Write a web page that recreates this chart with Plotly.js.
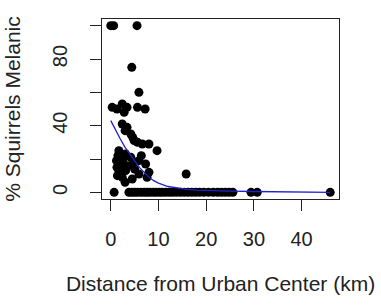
<!DOCTYPE html>
<html>
<head>
<meta charset="utf-8">
<script src="https://cdn.plot.ly/plotly-3.0.1.min.js"></script>
<style>html,body{margin:0;padding:0;background:#fff;}#chart{width:381px;height:308px;}</style>
</head>
<body>
<div id="chart"></div>
<script>
// Observed sites: distance from urban center (km) and % melanic squirrels
const distanceKm = [
  0.0, 0.6, 5.5,
  4.4,
  5.9,
  0.3, 1.3, 2.4, 2.8, 3.4, 5.6, 7.2,
  2.4, 3.4, 4.2, 4.9, 3.0, 4.6,
  1.7, 3.1, 6.6, 8.0, 5.6,
  1.2, 1.5, 1.3, 1.7, 1.4, 2.2, 3.1, 2.6, 3.6, 4.2, 4.8, 5.9, 6.4, 7.3, 5.9, 4.5, 5.0, 8.0, 7.6, 3.0, 2.4,
  9.7, 15.8,
  0.7, 3.8, 4.4, 5.0, 5.6, 6.3, 7.0, 7.6, 8.2, 8.9, 9.5, 10.2, 10.8, 11.5, 12.3, 13.0, 13.8, 14.6, 15.4,
  16.2, 17.0, 17.8, 18.6, 19.5, 20.5, 21.5, 22.4, 23.2, 24.0, 24.8, 25.6, 29.4, 30.7, 46.0
];
const pctMelanic = [
  100, 100, 100,
  75,
  60,
  51, 50, 53, 48, 51, 51, 50,
  41, 39, 35, 31, 37, 33,
  25, 23, 29, 29, 30,
  19, 22, 15, 13, 10, 17, 13, 20, 16, 21, 18, 19, 22, 17, 11, 8, 14, 12, 9, 6, 9,
  25, 11,
  0, 0, 0, 0, 0, 0, 0, 0, 0, 0, 0, 0, 0, 0, 0, 0, 0, 0, 0,
  0, 0, 0, 0, 0, 0, 0, 0, 0, 0, 0, 0, 0, 0, 0
];
// Fitted curve
const fitX = [0, 1, 2, 3, 4, 5, 6, 7, 8, 9, 10, 12, 14, 16, 18, 20, 25, 30, 38, 46];
const fitY = [43, 37, 32, 27, 23, 19, 15, 12, 9, 7, 5.5, 3.5, 2.5, 1.8, 1.3, 1.0, 0.7, 0.5, 0.3, 0];

const xTicks = [0, 10, 20, 30, 40];
const yTicks = [0, 20, 40, 60, 80, 100];
const yTickText = ['0', '', '40', '', '80', ''];

const fontFam = 'Liberation Sans, Arial, sans-serif';

Plotly.newPlot('chart', [
  {
    x: distanceKm, y: pctMelanic, type: 'scatter', mode: 'markers',
    marker: {color: '#000', size: 9, line: {width: 0}}, cliponaxis: false, hoverinfo: 'none'
  },
  {
    x: fitX, y: fitY, type: 'scatter', mode: 'lines',
    line: {color: '#2222cc', width: 1.3}, hoverinfo: 'none'
  }
], {
  width: 381, height: 308,
  margin: {l: 102, r: 42, t: 19, b: 109, pad: 0},
  paper_bgcolor: '#fff', plot_bgcolor: '#fff',
  showlegend: false,
  font: {family: fontFam, size: 20, color: '#222'},
  xaxis: {
    range: [-1.84, 47.84], tickmode: 'array', tickvals: xTicks,
    ticks: 'outside', ticklen: 11, tickwidth: 1, tickcolor: '#222',
    showline: true, mirror: true, linecolor: '#222', linewidth: 1,
    showgrid: false, zeroline: false, ticklabelstandoff: 11,
    tickfont: {size: 20, color: '#222'},
    title: {text: 'Distance from Urban Center (km)', font: {size: 21, color: '#222'}, standoff: 27}
  },
  yaxis: {
    range: [-4, 104], tickmode: 'array', tickvals: yTicks, ticktext: yTickText,
    tickangle: -90,
    ticks: 'outside', ticklen: 11, tickwidth: 1, tickcolor: '#222',
    showline: true, mirror: true, linecolor: '#222', linewidth: 1,
    showgrid: false, zeroline: false, ticklabelstandoff: 15,
    tickfont: {size: 20, color: '#222'},
    title: {text: '% Squirrels Melanic', font: {size: 21, color: '#222'}, standoff: 22}
  }
}, {staticPlot: true, displayModeBar: false});
</script>
</body>
</html>
